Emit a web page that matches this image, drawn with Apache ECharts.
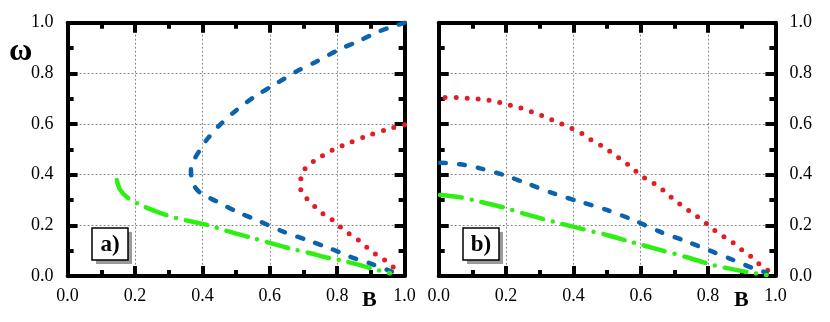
<!DOCTYPE html>
<html>
<head>
<meta charset="utf-8">
<script src="https://cdn.jsdelivr.net/npm/echarts@6/dist/echarts.min.js"></script>
<style>
  html, body { margin: 0; padding: 0; background: #fff; }
  #main { width: 830px; height: 322px; }
</style>
</head>
<body>
<div id="main"></div>
<script>
// tick labels, shared by both panels
var ticks = [0, 0.2, 0.4, 0.6, 0.8, 1.0];

// panel a) -- [B, omega]
var blueA = [[1.0, 1.0], [0.927, 0.967], [0.863, 0.927], [0.804, 0.893], [0.739, 0.847], [0.68, 0.808],
  [0.621, 0.761], [0.556, 0.709], [0.502, 0.656], [0.447, 0.59], [0.413, 0.538], [0.393, 0.498],
  [0.376, 0.46], [0.366, 0.42], [0.368, 0.385], [0.376, 0.355], [0.395, 0.327], [0.443, 0.294],
  [0.502, 0.254], [0.571, 0.215], [0.64, 0.175], [0.71, 0.142], [0.779, 0.109], [0.838, 0.076],
  [0.897, 0.05], [0.962, 0.017]];
var redA = [[1.0, 0.597], [0.962, 0.584], [0.897, 0.557], [0.833, 0.524], [0.799, 0.505], [0.769, 0.485],
  [0.74, 0.461], [0.71, 0.432], [0.695, 0.399], [0.69, 0.353], [0.7, 0.32], [0.724, 0.287],
  [0.749, 0.254], [0.779, 0.228], [0.808, 0.195], [0.833, 0.169], [0.863, 0.142], [0.892, 0.109],
  [0.917, 0.083], [0.947, 0.057], [0.971, 0.03]];
var greenA = [[0.146, 0.379], [0.156, 0.34], [0.18, 0.307], [0.215, 0.281], [0.264, 0.254], [0.324, 0.228],
  [0.368, 0.215], [0.413, 0.202], [0.472, 0.178], [0.551, 0.149], [0.621, 0.123], [0.66, 0.109],
  [0.72, 0.09], [0.779, 0.07], [0.808, 0.063], [0.868, 0.043], [0.917, 0.024], [0.957, 0.011]];

// panel b)
var redB = [[0.019, 0.705], [0.058, 0.704], [0.093, 0.701], [0.128, 0.697], [0.162, 0.691], [0.197, 0.679],
  [0.232, 0.668], [0.261, 0.655], [0.296, 0.639], [0.326, 0.622], [0.36, 0.603], [0.39, 0.586],
  [0.425, 0.563], [0.451, 0.539], [0.484, 0.514], [0.511, 0.489], [0.539, 0.462], [0.566, 0.436],
  [0.593, 0.405], [0.623, 0.376], [0.65, 0.357], [0.677, 0.326], [0.707, 0.293], [0.734, 0.267],
  [0.761, 0.241], [0.789, 0.214], [0.816, 0.184], [0.844, 0.158], [0.873, 0.133], [0.9, 0.103],
  [0.93, 0.074], [0.956, 0.043], [0.984, 0.017]];
var blueB = [[0.004, 0.447], [0.063, 0.441], [0.123, 0.425], [0.192, 0.399], [0.261, 0.366], [0.341, 0.326],
  [0.42, 0.293], [0.499, 0.261], [0.578, 0.221], [0.657, 0.175], [0.737, 0.136], [0.806, 0.1],
  [0.875, 0.063], [0.935, 0.03], [0.974, 0.013]];
var greenB = [[0.004, 0.32], [0.063, 0.311], [0.123, 0.293], [0.192, 0.271], [0.261, 0.243], [0.341, 0.214],
  [0.42, 0.188], [0.499, 0.162], [0.578, 0.132], [0.657, 0.103], [0.737, 0.074], [0.816, 0.043],
  [0.875, 0.026], [0.935, 0.011], [0.974, 0.004]];

var FONT = '"Liberation Serif", "DejaVu Serif", serif';
var BLUE = '#0b62ad', RED = '#e21d26', GREEN = '#2def12';

var chartDom = document.getElementById('main');
var myChart = echarts.init(chartDom, null, { renderer: 'canvas' });

function fmt(v) { return v.toFixed(1); }

// one axis; labels / grid lines switched on per side
function axis(kind, grid, pos, labels, split) {
  return {
    type: 'value', gridIndex: grid, position: pos,
    min: ticks[0], max: ticks[ticks.length - 1], interval: 0.2,
    axisLine: { show: true, onZero: false, lineStyle: { color: '#000', width: 4 } },
    axisTick: { show: true, inside: true, length: 10, lineStyle: { color: '#000', width: 4 } },
    minorTick: { show: true, splitNumber: 2, length: 6, lineStyle: { color: '#000', width: 4 } },
    axisLabel: {
      show: labels, formatter: fmt, color: '#000', fontFamily: FONT, fontSize: 18,
      margin: kind === 'x' ? 11 : 14
    },
    splitLine: { show: split, lineStyle: { color: '#8a8a8a', width: 1, type: [2, 2] } },
    minorSplitLine: { show: false }
  };
}

function curve(data, color, dash, width, xi, yi) {
  return {
    type: 'line', data: data, xAxisIndex: xi, yAxisIndex: yi,
    showSymbol: false, smooth: 0.3, silent: true, animation: false,
    lineStyle: { color: color, width: width, type: dash, cap: 'round', join: 'round' }
  };
}

var DOTS = [0, 11], DASH = [6, 13], DASHDOT = [22, 10, 0, 10];

var option = {
  animation: false,
  grid: [
    { left: 67.6, top: 22.7, width: 337, height: 253.3 },
    { left: 438.7, top: 22.7, width: 336.7, height: 253.3 }
  ],
  xAxis: [
    axis('x', 0, 'bottom', true, true),
    axis('x', 0, 'top', false, false),
    axis('x', 1, 'bottom', true, true),
    axis('x', 1, 'top', false, false)
  ],
  yAxis: [
    axis('y', 0, 'left', true, true),
    axis('y', 0, 'right', false, false),
    axis('y', 1, 'right', true, true),
    axis('y', 1, 'left', false, false)
  ],
  series: [
    curve(blueA, BLUE, DASH, 4.5, 0, 0),
    curve(redA, RED, DOTS, 5, 0, 0),
    curve(greenA, GREEN, DASHDOT, 4.5, 0, 0),
    curve(redB, RED, DOTS, 5, 2, 2),
    curve(blueB, BLUE, DASH, 4.5, 2, 2),
    curve(greenB, GREEN, DASHDOT, 4.5, 2, 2)
  ],
  graphic: [
    { type: 'text', left: 9, top: 36, style: { text: 'ω', font: 'bold 32px ' + FONT, fill: '#000' } },
    { type: 'text', left: 362, top: 289, style: { text: 'B', font: 'bold 22px ' + FONT, fill: '#000' } },
    { type: 'text', left: 734, top: 289, style: { text: 'B', font: 'bold 22px ' + FONT, fill: '#000' } },
    // panel tags with drop shadow
    { type: 'rect', shape: { x: 96, y: 232, width: 36, height: 32 }, style: { fill: '#9a9a9a' }, z: 10 },
    { type: 'rect', shape: { x: 92, y: 228, width: 36, height: 32 }, style: { fill: '#fff', stroke: '#000', lineWidth: 1.5 }, z: 11 },
    { type: 'text', x: 110, y: 245, style: { text: 'a)', font: 'bold 23px ' + FONT, fill: '#000', align: 'center', verticalAlign: 'middle' }, z: 12 },
    { type: 'rect', shape: { x: 467, y: 232, width: 36, height: 32 }, style: { fill: '#9a9a9a' }, z: 10 },
    { type: 'rect', shape: { x: 463, y: 228, width: 36, height: 32 }, style: { fill: '#fff', stroke: '#000', lineWidth: 1.5 }, z: 11 },
    { type: 'text', x: 481, y: 245, style: { text: 'b)', font: 'bold 23px ' + FONT, fill: '#000', align: 'center', verticalAlign: 'middle' }, z: 12 }
  ]
};

myChart.setOption(option);
</script>
</body>
</html>
